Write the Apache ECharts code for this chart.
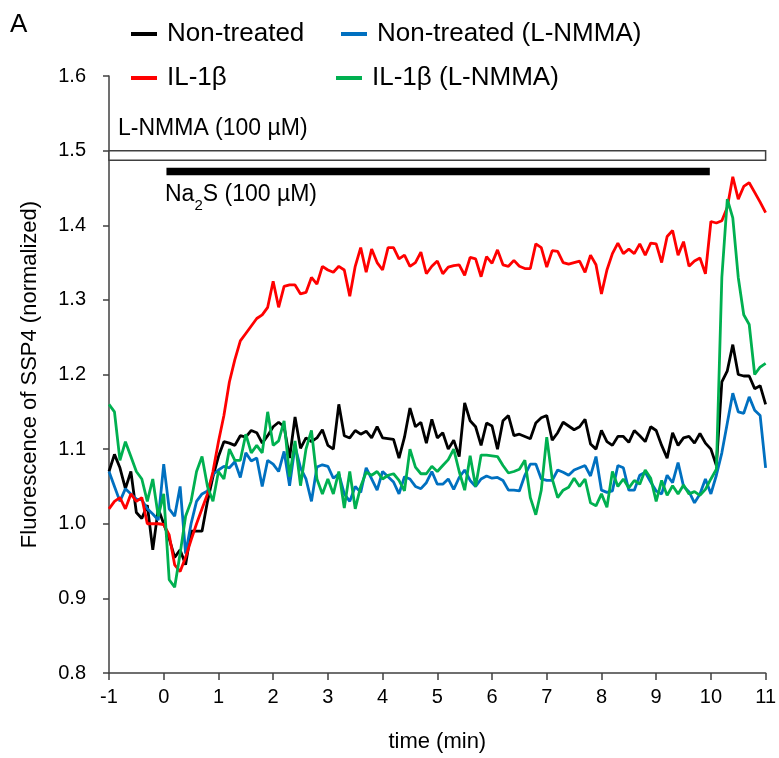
<!DOCTYPE html>
<html><head><meta charset="utf-8">
<script src="https://cdn.jsdelivr.net/npm/echarts@6/dist/echarts.min.js"></script>
<style>html,body{margin:0;padding:0;background:#fff}#c{width:779px;height:758px}</style>
</head><body><div id="c"></div>
<script>
// sampling grid (min)
const tStart = -1, tStep = 0.1;
const xTicks = [-1,0,1,2,3,4,5,6,7,8,9,10,11];
const yTicks = [0.8,0.9,1.0,1.1,1.2,1.3,1.4,1.5,1.6];
const seriesNames = ['Non-treated','Non-treated (L-NMMA)','IL-1β','IL-1β (L-NMMA)'];

const nonTreated = [
1.07,1.093,1.075,1.047,1.07,1.015,1.007,1.025,0.965,1.02,
1.0,0.98,0.955,0.965,0.945,0.99,0.99,0.99,1.03,1.063,
1.09,1.11,1.108,1.105,1.118,1.116,1.125,1.122,1.108,1.118,
1.13,1.136,1.13,1.088,1.143,1.101,1.115,1.11,1.115,1.126,
1.105,1.1,1.16,1.118,1.115,1.125,1.12,1.124,1.115,1.13,
1.115,1.114,1.113,1.088,1.116,1.155,1.13,1.136,1.108,1.14,
1.115,1.122,1.1,1.112,1.09,1.162,1.138,1.13,1.105,1.135,
1.131,1.1,1.138,1.145,1.118,1.12,1.117,1.114,1.135,1.142,
1.145,1.112,1.122,1.136,1.131,1.126,1.13,1.14,1.107,1.1,
1.125,1.11,1.105,1.117,1.117,1.109,1.125,1.118,1.11,1.13,
1.125,1.105,1.088,1.122,1.105,1.115,1.117,1.108,1.121,1.108,
1.1,1.078,1.19,1.205,1.24,1.2,1.198,1.198,1.181,1.185,
1.16];

const nonTreatedLNMMA = [
1.07,1.05,1.03,1.047,1.04,1.033,1.032,1.02,1.013,1.005,
1.08,1.02,1.01,1.05,0.96,1.0,1.03,1.04,1.044,1.066,
1.072,1.077,1.075,1.083,1.062,1.095,1.084,1.088,1.05,1.085,
1.08,1.07,1.097,1.051,1.104,1.075,1.06,1.03,1.076,1.079,
1.077,1.061,1.067,1.04,1.03,1.05,1.042,1.075,1.06,1.045,
1.07,1.063,1.056,1.04,1.063,1.06,1.05,1.047,1.055,1.07,
1.053,1.053,1.06,1.046,1.062,1.072,1.058,1.05,1.06,1.064,
1.061,1.062,1.058,1.045,1.045,1.044,1.065,1.08,1.08,1.06,
1.058,1.058,1.072,1.069,1.065,1.072,1.075,1.078,1.064,1.09,
1.045,1.042,1.044,1.078,1.075,1.045,1.045,1.065,1.069,1.056,
1.044,1.04,1.065,1.055,1.082,1.05,1.043,1.028,1.04,1.06,
1.04,1.065,1.095,1.135,1.175,1.15,1.148,1.17,1.152,1.145,
1.075];

const il1b = [
1.02,1.03,1.035,1.02,1.04,1.03,1.035,1.0,1.0,1.0,
0.999,0.985,0.945,0.936,0.955,0.978,1.0,1.02,1.04,1.07,
1.11,1.145,1.19,1.22,1.245,1.255,1.265,1.275,1.28,1.29,
1.325,1.29,1.318,1.32,1.32,1.308,1.31,1.33,1.321,1.345,
1.34,1.337,1.345,1.34,1.305,1.345,1.37,1.337,1.368,1.35,
1.34,1.37,1.37,1.355,1.36,1.345,1.35,1.364,1.335,1.345,
1.352,1.335,1.344,1.346,1.347,1.333,1.357,1.355,1.331,1.358,
1.349,1.367,1.347,1.345,1.353,1.345,1.342,1.342,1.375,1.37,
1.344,1.366,1.365,1.35,1.348,1.35,1.352,1.337,1.36,1.347,
1.308,1.34,1.362,1.376,1.362,1.368,1.362,1.375,1.36,1.376,
1.375,1.35,1.385,1.393,1.36,1.378,1.345,1.352,1.356,1.335,
1.405,1.403,1.406,1.424,1.465,1.435,1.452,1.457,1.444,1.431,
1.417];

const il1bLNMMA = [
1.16,1.15,1.085,1.11,1.09,1.07,1.06,1.03,1.06,1.01,
1.04,0.925,0.915,0.96,1.01,1.03,1.07,1.09,1.05,1.03,
1.07,1.06,1.1,1.085,1.085,1.12,1.095,1.105,1.095,1.15,
1.105,1.111,1.138,1.063,1.111,1.051,1.1,1.125,1.06,1.04,
1.06,1.04,1.07,1.021,1.07,1.02,1.05,1.069,1.065,1.07,
1.06,1.065,1.067,1.058,1.044,1.1,1.076,1.067,1.067,1.077,
1.07,1.078,1.086,1.1,1.07,1.045,1.091,1.05,1.092,1.092,
1.091,1.09,1.078,1.068,1.07,1.073,1.085,1.035,1.012,1.045,
1.116,1.06,1.035,1.045,1.049,1.061,1.05,1.06,1.028,1.024,
1.04,1.022,1.07,1.05,1.06,1.048,1.058,1.053,1.072,1.061,
1.03,1.058,1.038,1.051,1.04,1.052,1.04,1.043,1.038,1.046,
1.06,1.073,1.33,1.435,1.41,1.33,1.28,1.267,1.2,1.21,
1.215];

// treatment bars (time range, y range)
const lnmmaBar = {t0: -1, t1: 11, y0: 1.487, y1: 1.5};
const na2sBar = {t0: 0.05, t1: 9.98, y0: 1.467, y1: 1.477};

const colors = ['#000000', '#0070C0', '#FF0000', '#00B050'];
const FONT = 'Liberation Sans, Arial, sans-serif';

function pairs(arr){ return arr.map((v,i)=>[+(tStart + i*tStep).toFixed(3), v]); }

const chart = echarts.init(document.getElementById('c'), null, {renderer:'canvas'});
const legendBase = {
  icon:'rect', itemWidth:26, itemHeight:4, padding:0, selectedMode:false,
  textStyle:{fontSize:26, color:'#000', fontFamily:FONT, padding:[0,0,0,5]}
};
const dataSets = [nonTreated, nonTreatedLNMMA, il1b, il1bLNMMA];

const series = dataSets.map((d,i)=>({
  name: seriesNames[i], type:'line', data: pairs(d), showSymbol:false, symbol:'none',
  lineStyle:{width:2.8, color:colors[i]}, itemStyle:{color:colors[i]}, z: 3+i,
  emphasis:{disabled:true}, silent:true
}));
series[0].markArea = {
  silent:true,
  data:[
    [{coord:[lnmmaBar.t0, lnmmaBar.y1], itemStyle:{color:'#fff', borderColor:'#404040', borderWidth:1.5}},
     {coord:[lnmmaBar.t1, lnmmaBar.y0]}],
    [{coord:[na2sBar.t0, na2sBar.y1], itemStyle:{color:'#000', borderWidth:0}},
     {coord:[na2sBar.t1, na2sBar.y0]}]
  ]
};

chart.setOption({
  animation:false,
  backgroundColor:'#fff',
  grid:{left:109, right:13, top:76, bottom:82, containLabel:false},
  legend:[
    Object.assign({}, legendBase, {data:[seriesNames[0]], left:131, top:21}),
    Object.assign({}, legendBase, {data:[seriesNames[1]], left:341, top:21}),
    Object.assign({}, legendBase, {data:[seriesNames[2]], left:131, top:65}),
    Object.assign({}, legendBase, {data:[seriesNames[3]], left:336, top:65})
  ],
  xAxis:{
    type:'value', min:xTicks[0], max:xTicks[xTicks.length-1], interval:1,
    name:'time (min)', nameLocation:'middle', nameGap:58,
    nameTextStyle:{fontSize:22, color:'#000', fontFamily:FONT},
    axisLine:{onZero:false, lineStyle:{color:'#404040', width:1.5}},
    axisTick:{length:7, lineStyle:{color:'#404040', width:1.5}},
    axisLabel:{fontSize:20, color:'#000', fontFamily:FONT, margin:14},
    splitLine:{show:false}
  },
  yAxis:{
    type:'value', min:yTicks[0], max:yTicks[yTicks.length-1], interval:0.1,
    name:'Fluorescence of SSP4 (normalized)', nameLocation:'middle', nameGap:68,
    nameTextStyle:{fontSize:22, color:'#000', fontFamily:FONT},
    axisLine:{show:true, onZero:false, lineStyle:{color:'#404040', width:1.5}},
    axisTick:{show:true, length:6, lineStyle:{color:'#404040', width:1.5}},
    axisLabel:{fontSize:20, color:'#000', fontFamily:FONT, margin:23, formatter:v=>v.toFixed(1)},
    splitLine:{show:false}
  },
  graphic:[
    {type:'text', left:10, top:12, style:{text:'A', fontSize:26, fill:'#000', fontFamily:FONT}},
    {type:'text', x:118, y:129, style:{text:'L-NMMA (100 µM)', fontSize:23, fill:'#000', fontFamily:FONT, verticalAlign:'middle'}},
    {type:'text', x:165, y:198, style:{
      text:'{a|Na}{b|2}{a|S (100 µM)}', fill:'#000', fontFamily:FONT, verticalAlign:'middle',
      rich:{a:{fontSize:23, lineHeight:30, verticalAlign:'top', fontFamily:FONT},
            b:{fontSize:15, lineHeight:14, verticalAlign:'bottom', fontFamily:FONT}}
    }}
  ],
  series: series
});
</script></body></html>
